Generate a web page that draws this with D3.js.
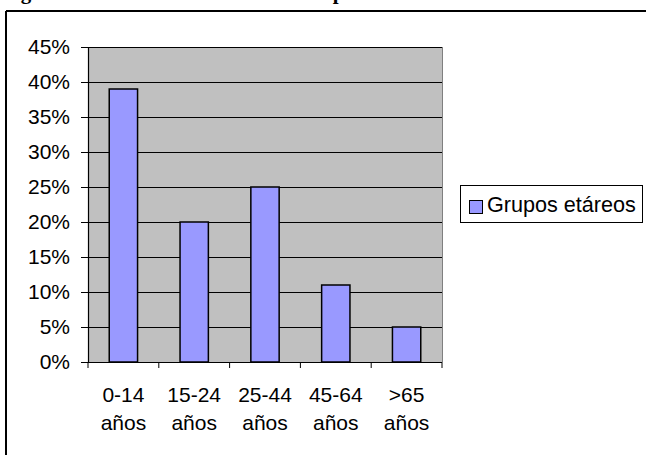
<!DOCTYPE html>
<html>
<head>
<meta charset="utf-8">
<script src="https://cdn.jsdelivr.net/npm/d3@7"></script>
<style>
  html, body { margin: 0; padding: 0; background: #fff; }
  svg { display: block; }
  text { font-family: Arial, "Liberation Sans", sans-serif; fill: #000; }
</style>
</head>
<body>
<svg id="chart" width="646" height="455"></svg>
<script>
const categories = ["0-14 años", "15-24 años", "25-44 años", "45-64 años", ">65 años"];
const values = [0.39, 0.20, 0.25, 0.11, 0.05];
const seriesName = "Grupos etáreos";
const yTicks = [0, 0.05, 0.10, 0.15, 0.20, 0.25, 0.30, 0.35, 0.40, 0.45];
const titleText = "Figura 1. Distribución de la muestra por edad";

const svg = d3.select("#chart");
const W = 646, H = 455;
const plot = { left: 88, right: 442, top: 47, bottom: 362 };

// title, cut off by the top edge as in the reference
svg.append("text")
  .attr("x", 2).attr("y", -1)
  .style("font-family", "'Liberation Serif', 'Times New Roman', serif")
  .style("font-weight", "bold")
  .style("font-size", "21px")
  .text(titleText);

// outer frame (top and left visible)
svg.append("line").attr("x1", 6).attr("x2", W).attr("y1", 11).attr("y2", 11)
  .attr("stroke", "#000").attr("stroke-width", 2);
svg.append("line").attr("x1", 6).attr("x2", 6).attr("y1", 11).attr("y2", H)
  .attr("stroke", "#000").attr("stroke-width", 2);

const x = d3.scaleBand().domain(categories).range([plot.left, plot.right]).paddingInner(0.6).paddingOuter(0.3);
const xBand = d3.scaleBand().domain(categories).range([plot.left, plot.right]);
const y = d3.scaleLinear().domain([0, 0.45]).range([plot.bottom, plot.top]);

// plot background
svg.append("rect")
  .attr("x", plot.left).attr("y", plot.top)
  .attr("width", plot.right - plot.left).attr("height", plot.bottom - plot.top)
  .attr("fill", "#C0C0C0");

// gridlines
svg.append("g").selectAll("line").data(yTicks.filter(d => d > 0)).join("line")
  .attr("x1", plot.left).attr("x2", plot.right)
  .attr("y1", d => Math.round(y(d)) + 0.5).attr("y2", d => Math.round(y(d)) + 0.5)
  .attr("stroke", "#000").attr("stroke-width", 1);

// right border
svg.append("line").attr("x1", plot.right + 0.5).attr("x2", plot.right + 0.5)
  .attr("y1", plot.top).attr("y2", plot.bottom)
  .attr("stroke", "#808080").attr("stroke-width", 1);

// bars
svg.append("g").selectAll("rect").data(values).join("rect")
  .attr("x", (d, i) => x(categories[i]))
  .attr("y", d => y(d))
  .attr("width", x.bandwidth())
  .attr("height", d => plot.bottom - y(d))
  .attr("fill", "#9999FF")
  .attr("stroke", "#000").attr("stroke-width", 1.5);

// y axis
const yAxis = d3.axisLeft(y).tickValues(yTicks).tickFormat(d3.format(".0%")).tickSize(7).tickPadding(11);
const gy = svg.append("g").attr("transform", `translate(${plot.left},0)`).call(yAxis);
gy.select(".domain").attr("stroke", "#000").attr("stroke-width", 1.2);
gy.selectAll(".tick line").attr("stroke", "#000");
gy.selectAll(".tick text").style("font-size", "21px").style("font-family", "Arial, 'Liberation Sans', sans-serif").attr("fill", "#000");

// x axis with tick marks at band edges
const gx = svg.append("g").attr("transform", `translate(0,${plot.bottom})`);
gx.append("line").attr("x1", plot.left).attr("x2", plot.right).attr("y1", 0.5).attr("y2", 0.5)
  .attr("stroke", "#000").attr("stroke-width", 1.2);
const edges = categories.map(c => xBand(c)).concat([plot.right]);
gx.selectAll("line.tk").data(edges).join("line").attr("class", "tk")
  .attr("x1", d => d).attr("x2", d => d).attr("y1", 0).attr("y2", 6)
  .attr("stroke", "#000");
const labels = gx.selectAll("text.lbl").data(categories).join("text").attr("class", "lbl")
  .attr("text-anchor", "middle")
  .style("font-size", "21px");
labels.each(function(d) {
  const parts = d.split(" ");
  const t = d3.select(this);
  const cx = xBand(d) + xBand.bandwidth() / 2;
  parts.forEach((p, i) => {
    t.append("tspan").attr("x", cx).attr("y", 40 + i * 28).text(p);
  });
});

// legend
const lg = svg.append("g");
lg.append("rect").attr("x", 460.5).attr("y", 185.5).attr("width", 182).attr("height", 37)
  .attr("fill", "#fff").attr("stroke", "#000").attr("stroke-width", 1);
lg.append("rect").attr("x", 469.5).attr("y", 200.5).attr("width", 13).attr("height", 13)
  .attr("fill", "#9999FF").attr("stroke", "#000").attr("stroke-width", 1);
lg.append("text").attr("x", 487).attr("y", 212).style("font-size", "21.6px").text(seriesName);
</script>
</body>
</html>
